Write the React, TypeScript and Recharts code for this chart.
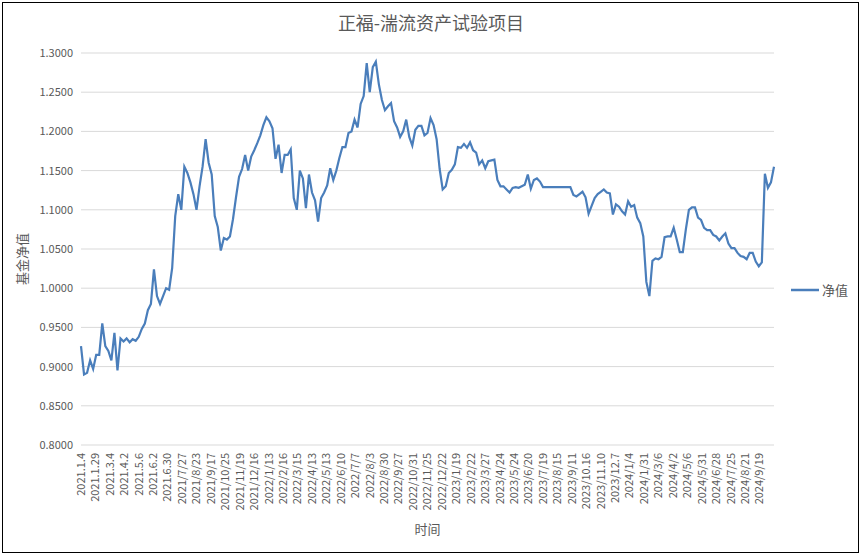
import { CartesianGrid, Legend, Line, LineChart, XAxis, YAxis } from "recharts";

// tick labels on the category axis, one every 19 trading days
const dateLabels = [
  "2021.1.4", "2021.1.29", "2021.3.4", "2021.4.2", "2021.5.6", "2021.6.2", "2021.6.30",
  "2021/7/27", "2021/8/23", "2021/9/17", "2021/10/25", "2021/11/19", "2021/12/16",
  "2022/1/13", "2022/2/16", "2022/3/15", "2022/4/13", "2022/5/13", "2022/6/10", "2022/7/7",
  "2022/8/3", "2022/8/30", "2022/9/27", "2022/10/31", "2022/11/25", "2022/12/22",
  "2023/1/19", "2023/2/22", "2023/3/27", "2023/4/24", "2023/5/24", "2023/6/20", "2023/7/19",
  "2023/8/15", "2023/9/11", "2023/10.16", "2023/11.10", "2023/12.7", "2024/1/4", "2024/1/31",
  "2024/3/6", "2024/4/2", "2024/5/6", "2024/5/31", "2024/6/28", "2024/7/25", "2024/8/21",
  "2024/9/19",
];

// net value, sampled every 4 trading days
const netValues = [
  0.926, 0.890, 0.892, 0.908, 0.897, 0.915, 0.915, 0.955, 0.926, 0.920,
  0.908, 0.943, 0.895, 0.936, 0.932, 0.936, 0.931, 0.935, 0.933, 0.938,
  0.948, 0.955, 0.972, 0.980, 1.024, 0.990, 0.980, 0.990, 1.000, 0.998,
  1.026, 1.092, 1.120, 1.100, 1.155, 1.147, 1.135, 1.120, 1.100, 1.130,
  1.155, 1.190, 1.160, 1.145, 1.092, 1.078, 1.048, 1.064, 1.062, 1.066,
  1.088, 1.116, 1.142, 1.152, 1.170, 1.150, 1.168, 1.176, 1.185, 1.195,
  1.208, 1.218, 1.213, 1.204, 1.165, 1.183, 1.147, 1.170, 1.170, 1.177,
  1.115, 1.100, 1.150, 1.140, 1.102, 1.145, 1.122, 1.112, 1.085, 1.115,
  1.122, 1.131, 1.153, 1.138, 1.150, 1.166, 1.180, 1.180, 1.198, 1.200,
  1.215, 1.205, 1.235, 1.245, 1.287, 1.250, 1.282, 1.289, 1.260, 1.240,
  1.227, 1.232, 1.236, 1.213, 1.205, 1.193, 1.200, 1.215, 1.193, 1.182,
  1.202, 1.207, 1.207, 1.195, 1.198, 1.217, 1.208, 1.190, 1.152, 1.126,
  1.130, 1.147, 1.151, 1.158, 1.180, 1.179, 1.184, 1.179, 1.186, 1.176,
  1.173, 1.158, 1.163, 1.153, 1.162, 1.163, 1.164, 1.138, 1.130, 1.130,
  1.126, 1.122, 1.128, 1.129, 1.128, 1.130, 1.132, 1.145, 1.127, 1.138,
  1.140, 1.136, 1.129, 1.129, 1.129, 1.129, 1.129, 1.129, 1.129, 1.129,
  1.129, 1.129, 1.119, 1.117, 1.120, 1.123, 1.116, 1.095, 1.105, 1.115,
  1.120, 1.123, 1.126, 1.122, 1.121, 1.094, 1.107, 1.104, 1.098, 1.094,
  1.111, 1.104, 1.106, 1.090, 1.083, 1.066, 1.008, 0.990, 1.035, 1.038,
  1.037, 1.040, 1.065, 1.066, 1.066, 1.077, 1.062, 1.046, 1.046, 1.075,
  1.100, 1.103, 1.103, 1.090, 1.087, 1.077, 1.074, 1.074, 1.068, 1.066,
  1.061, 1.066, 1.070, 1.057, 1.051, 1.051, 1.045, 1.041, 1.040, 1.037,
  1.045, 1.045, 1.034, 1.028, 1.033, 1.146, 1.128, 1.135, 1.155,
];

const yTicks = [0.8, 0.85, 0.9, 0.95, 1.0, 1.05, 1.1, 1.15, 1.2, 1.25, 1.3];

const STEP = 4;
const LABEL_EVERY = 19;
const LINE_COLOR = "#4a7ebb";
const TEXT_COLOR = "#595959";
const FONT = "'Noto Sans CJK SC', 'Noto Sans', sans-serif";

const data = netValues.map((v, i) => ({ day: i * STEP, value: v }));
const xTicks = dateLabels.map((_, i) => i * LABEL_EVERY);

const DateTick = (props: any) => {
  const { x, y, payload } = props;
  const label = dateLabels[Math.round(payload.value / LABEL_EVERY)];
  return (
    <g transform={`translate(${x},${y})`}>
      <text
        transform="rotate(-90)"
        textAnchor="end"
        dy="0.35em"
        fontSize={11}
        fill={TEXT_COLOR}
        fontFamily={FONT}
      >
        {label}
      </text>
    </g>
  );
};

// y axis title, sits a little below the middle of the plot like the original
const YTitle = (props: any) => {
  const { viewBox } = props;
  const cx = viewBox.x + 11;
  const cy = viewBox.y + viewBox.height / 2 + 10;
  return (
    <text
      transform={`translate(${cx},${cy}) rotate(-90)`}
      textAnchor="middle"
      dy="0.35em"
      fontSize={13}
      fill={TEXT_COLOR}
      fontFamily={FONT}
    >
      基金净值
    </text>
  );
};

const LegendBox = () => (
  <div
    style={{
      display: "flex",
      alignItems: "center",
      fontSize: 13,
      lineHeight: "18px",
      color: TEXT_COLOR,
      fontFamily: FONT,
    }}
  >
    <svg width={28} height={4}>
      <line x1={0} y1={2} x2={28} y2={2} stroke={LINE_COLOR} strokeWidth={2.5} />
    </svg>
    <span style={{ marginLeft: 3 }}>净值</span>
  </div>
);

export default function App() {
  return (
    <div
      style={{
        position: "absolute",
        left: 0,
        top: 0,
        width: 862,
        height: 556,
        background: "#fff",
        fontFamily: FONT,
      }}
    >
      <div
        style={{
          position: "absolute",
          left: 2,
          top: 2,
          width: 855,
          height: 549,
          border: "1.5px solid #000",
          pointerEvents: "none",
        }}
      />
      <div
        style={{
          position: "absolute",
          top: 10,
          width: 862,
          textAlign: "center",
          fontSize: 18,
          lineHeight: "24px",
          color: TEXT_COLOR,
        }}
      >
        正福-湍流资产试验项目
      </div>
      <LineChart
        width={862}
        height={556}
        data={data}
        margin={{ top: 53, right: 88, bottom: 16, left: 11 }}
      >
        <CartesianGrid vertical={false} stroke="#d9d9d9" />
        <XAxis
          dataKey="day"
          type="number"
          domain={[0, (netValues.length - 1) * STEP]}
          ticks={xTicks}
          interval={0}
          height={95}
          axisLine={false}
          tickLine={false}
          tick={<DateTick />}
          label={{
            value: "时间",
            position: "insideBottom",
            offset: 6,
            fontSize: 13,
            fill: TEXT_COLOR,
          }}
        />
        <YAxis
          type="number"
          domain={[0.8, 1.3]}
          ticks={yTicks}
          width={70}
          axisLine={false}
          tickLine={false}
          tickFormatter={(v: number) => v.toFixed(4)}
          tick={{ fontSize: 11, fill: TEXT_COLOR }}
          label={<YTitle />}
        />
        <Legend
          layout="vertical"
          align="center"
          verticalAlign="middle"
          content={<LegendBox />}
          wrapperStyle={{ left: 791, top: 281, width: 70 }}
        />
        <Line
          type="linear"
          dataKey="value"
          stroke={LINE_COLOR}
          strokeWidth={2.2}
          dot={false}
          isAnimationActive={false}
        />
      </LineChart>
    </div>
  );
}
